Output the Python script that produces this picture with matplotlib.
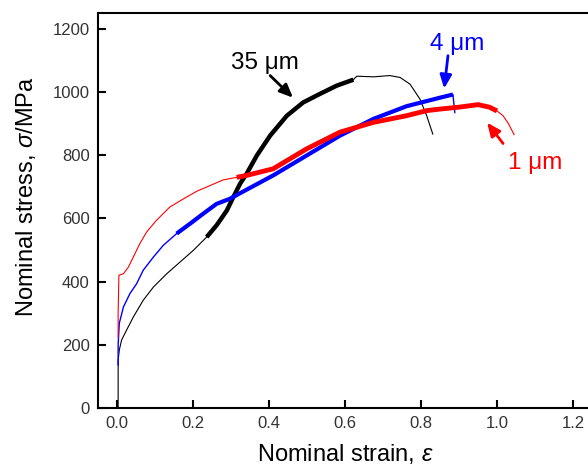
import numpy as np
import matplotlib
matplotlib.use("Agg")
import matplotlib.pyplot as plt

plt.rcParams['font.family'] = ['Liberation Sans', 'DejaVu Sans']
plt.rcParams['mathtext.fontset'] = 'custom'
plt.rcParams['mathtext.rm'] = 'Liberation Sans'
plt.rcParams['mathtext.it'] = 'Liberation Sans:italic'

# 1 um grain size (red)
strain_1um = [0.003, 0.003, 0.005, 0.017, 0.03, 0.043, 0.06, 0.078, 0.104, 0.139,
              0.175, 0.21, 0.245, 0.28, 0.315, 0.341, 0.411, 0.499, 0.587, 0.675,
              0.762, 0.815, 0.85, 0.9, 0.95, 0.98, 1.0, 1.016, 1.03, 1.045]
stress_1um = [224, 300, 420, 425, 446, 478, 520, 557, 594, 636,
              662, 686, 704, 722, 730, 736, 757, 820, 873, 904,
              925, 941, 946, 952, 960, 952, 940, 925, 900, 865]

# 4 um grain size (blue)
strain_4um = [0.003, 0.003, 0.006, 0.017, 0.034, 0.052, 0.069, 0.096, 0.122, 0.157,
              0.192, 0.227, 0.262, 0.297, 0.332, 0.411, 0.499, 0.587, 0.675, 0.762,
              0.85, 0.884, 0.889]
stress_4um = [136, 200, 268, 320, 362, 394, 436, 478, 515, 552,
              583, 615, 646, 662, 685, 736, 799, 862, 915, 955,
              982, 992, 935]

# 35 um grain size (black)
strain_35um = [0.003, 0.003, 0.006, 0.012, 0.025, 0.043, 0.069, 0.096, 0.131, 0.166,
               0.201, 0.236, 0.262, 0.289, 0.306, 0.324, 0.341, 0.368, 0.403, 0.447,
               0.49, 0.534, 0.578, 0.622, 0.631, 0.675, 0.718, 0.745, 0.771, 0.797,
               0.815, 0.831]
stress_35um = [0, 150, 183, 215, 246, 288, 341, 383, 425, 462,
               499, 541, 578, 625, 667, 710, 741, 799, 862, 925,
               967, 994, 1020, 1039, 1050, 1048, 1052, 1046, 1025, 978,
               925, 867]

labels = ['1 μm', '4 μm', '35 μm']

fig = plt.figure(figsize=(5.88, 4.68), dpi=100)
ax = fig.add_axes([98 / 588, 60 / 468, 494 / 588, 395 / 468])

def draw(x, y, color, thin, thick, lo, hi):
    x = np.array(x)
    y = np.array(y)
    ax.plot(x, y, color=color, lw=thin)
    m = (x >= lo) & (x <= hi)
    ax.plot(x[m], y[m], color=color, lw=thick, solid_capstyle='butt')

draw(strain_35um, stress_35um, 'black', 0.8, 3.2, 0.22, 0.625)
draw(strain_4um, stress_4um, '#0000ff', 1.0, 3.0, 0.14, 0.885)
draw(strain_1um, stress_1um, '#ff0000', 0.8, 3.5, 0.3, 1.0)

ax.set_xlim(-0.05, 1.25)
ax.set_ylim(0, 1250)
ax.set_xticks([0.0, 0.2, 0.4, 0.6, 0.8, 1.0, 1.2])
ax.set_yticks([0, 200, 400, 600, 800, 1000, 1200])
ax.xaxis.set_major_formatter(matplotlib.ticker.FormatStrFormatter('%.1f'))
ax.tick_params(direction='in', length=6, width=1.5, labelsize=12,
               labelcolor='#333333', pad=6)
for s in ax.spines.values():
    s.set_linewidth(1.5)

ax.set_xlabel(r'Nominal strain, $\it{\varepsilon}$', fontsize=17)
ax.set_ylabel(r'Nominal stress, $\it{\sigma}$/MPa', fontsize=17)
ax.xaxis.set_label_coords(0.5, -0.085)
ax.yaxis.set_label_coords(-0.122, 0.534)

arrow = dict(arrowstyle='-|>,head_length=0.8,head_width=0.35',
             lw=2, mutation_scale=10, shrinkA=0, shrinkB=0)

ax.text(0.389, 1093, labels[2], fontsize=17.5, color='black', ha='center', va='center')
ax.annotate('', xy=(0.463, 982), xytext=(0.403, 1052),
            arrowprops=dict(arrow, color='black'))

ax.text(0.895, 1153, labels[1], fontsize=17.5, color='#0000ff', ha='center', va='center')
ax.annotate('', xy=(0.861, 1011), xytext=(0.871, 1115),
            arrowprops=dict(arrow, color='#0000ff'))

ax.text(1.1, 774, labels[0], fontsize=17.5, color='#ff0000', ha='center', va='center')
ax.annotate('', xy=(0.974, 903), xytext=(1.016, 837),
            arrowprops=dict(arrow, color='#ff0000'))

fig.savefig('out.png', dpi=100)
